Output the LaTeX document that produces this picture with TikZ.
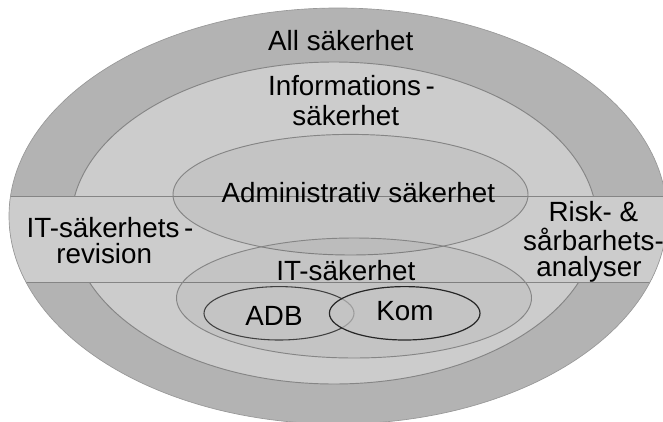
\documentclass[tikz,border=0pt]{standalone}
\usepackage{fontspec}
\setmainfont{Liberation Sans}
\definecolor{outerg}{HTML}{B3B3B3}
\definecolor{infog}{HTML}{CCCCCC}
\definecolor{lineg}{HTML}{858585}
\definecolor{darkl}{HTML}{404040}
\definecolor{komfill}{HTML}{C4C4C4}
\begin{document}
\begin{tikzpicture}[x=0.75pt,y=-0.75pt,
  lbl/.style={anchor=base,inner sep=0pt,font=\fontsize{20.85}{22}\selectfont},
  ring/.style={draw=lineg,line width=0.7pt},
  shade/.style={fill=black,fill opacity=0.04}]
\useasboundingbox (0,0) rectangle (663,421);
\clip (0,0) rectangle (663,421);
% outer
\fill[outerg] (338,216) ellipse [x radius=329, y radius=208];
% informationssakerhet
\filldraw[fill=infog,ring] (334,223) ellipse [x radius=263, y radius=161];
% band
\begin{scope}
  \clip (338,216) ellipse [x radius=329, y radius=208];
  \fill[infog] (0,196.7) rectangle (663,282.3);
  \draw[ring] (0,196.7) -- (663,196.7);
  \draw[ring] (0,282.3) -- (663,282.3);
\end{scope}
\draw[draw=outerg!85!black,line width=0.5pt] (338,216) ellipse [x radius=329, y radius=208];
% administrativ
\path[shade] (350.5,194.7) ellipse [x radius=177.5, y radius=60.3];
\draw[ring] (350.5,194.7) ellipse [x radius=177.5, y radius=60.3];
% IT
\path[shade] (354,298) ellipse [x radius=177.5, y radius=60];
\draw[ring] (354,298) ellipse [x radius=177.5, y radius=60];
% ADB and Kom
\draw[draw=darkl,line width=0.8pt] (279,313.3) ellipse [x radius=75, y radius=26.7];
\path[fill=komfill,fill opacity=0.7] (404.7,313.3) ellipse [x radius=75.3, y radius=26.7];
\draw[draw=black!85,line width=0.9pt] (404.7,313.3) ellipse [x radius=75.3, y radius=26.7];
% labels
\node[lbl] (all) at (340.8,50.7) {All säkerhet};
\node[lbl] (info1) at (351.5,95) {Informations\,-};
\node[lbl] (info2) at (345.8,125) {säkerhet};
\node[lbl] (adm) at (358.4,202) {Administrativ säkerhet};
\node[lbl] (rev1) at (110,237.3) {IT-säkerhets\,-};
\node[lbl] (rev2) at (104.2,263) {revision};
\node[lbl] (risk1) at (593.3,221.7) {Risk- \&};
\node[lbl] (risk2) at (593.5,250) {sårbarhets-};
\node[lbl] (risk3) at (589,276.7) {analyser};
\node[lbl] (it) at (345.8,280) {IT-säkerhet};
\node[lbl] (adb) at (274,325) {ADB};
\node[lbl] (kom) at (405,320.7) {Kom};
\end{tikzpicture}
\end{document}
